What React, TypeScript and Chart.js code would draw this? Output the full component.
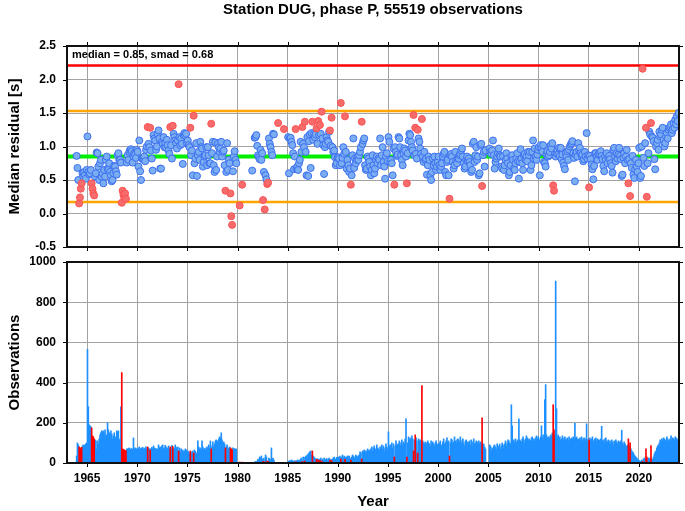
import React, { useEffect, useRef } from "react";
import { Chart, registerables } from "chart.js";

Chart.register(...registerables);

const TITLE = "Station DUG, phase P, 55519 observations";
const Y1_TITLE = "Median residual [s]";
const Y2_TITLE = "Observations";
const X_TITLE = "Year";
const MEDIAN = 0.85;
const SMAD = 0.68;
const STATS_LABEL = "median = 0.85, smad = 0.68";

const START_YEAR = 1963;
const X_MIN = 1963;
const X_MAX = 2024;
const yearTicks = [1965, 1970, 1975, 1980, 1985, 1990, 1995, 2000, 2005, 2010, 2015, 2020];
const residualTicks = [-0.5, 0, 0.5, 1, 1.5, 2, 2.5];
const countTicks = [0, 200, 400, 600, 800, 1000];

const n = null;

// monthly median residuals [s], one row of 12 months per year (null = no data)
const residual1960s = [
  n, n, n, n, n, n, n, n, n, n, n, 0.86, // 1963
  0.68, 0.5, 0.15, 0.24, 0.37, 0.45, 0.6, 0.55, 0.62, 0.57, 0.52, 0.65, // 1964
  1.15, 0.62, 0.58, 0.6, 0.65, 0.45, 0.37, 0.3, 0.27, 0.55, 0.6, 0.91, // 1965
  0.9, 0.7, 0.5, 0.75, 0.8, 0.55, 0.6, 0.45, 0.65, 0.55, 0.8, 0.85, // 1966
  0.67, 0.65, 0.75, 0.62, 0.57, 0.48, 0.5, 0.6, 0.71, 0.7, 0.63, 0.58, // 1967
  0.87, 0.9, 0.8, 0.8, 0.76, 0.16, 0.34, 0.28, 0.24, 0.3, 0.22, 0.76, // 1968
  0.87, 0.8, 0.92, 0.95, 0.96, 0.93, 0.76, 0.85, 0.9, 0.88, 0.83, 0.95, // 1969
];
const residual1970s = [
  0.92, 0.7, 1.09, 0.63, 0.5, 0.82, 0.82, 0.8, 0.85, 0.78, 0.95, 1.0, // 1970
  1.29, 1.04, 0.99, 1.28, 0.94, 0.82, 0.64, 1.17, 1.12, 1.09, 0.95, 1.0, // 1971
  1.19, 1.24, 1.12, 0.67, 0.67, 1.07, 1.04, 1.14, 0.99, 1.05, 0.98, 1.1, // 1972
  1.02, 0.94, 0.89, 1.29, 1.02, 0.82, 1.31, 1.19, 1.14, 1.09, 1.05, 0.97, // 1973
  1.09, 1.93, 1.14, 1.02, 1.12, 1.04, 0.74, 1.17, 1.2, 1.16, 1.19, 1.05, // 1974
  1.09, 1.02, 0.99, 1.28, 0.87, 0.94, 0.57, 1.46, 0.75, 0.82, 1.05, 0.56, // 1975
  0.87, 0.92, 0.8, 1.07, 0.99, 0.97, 0.7, 0.77, 0.85, 0.87, 0.99, 0.72, // 1976
  0.99, 0.87, 0.75, 0.75, 1.34, 0.9, 1.07, 0.72, 0.62, 1.06, 0.65, 0.85, // 1977
  1.04, 0.99, 0.92, 0.97, 1.07, 0.85, 0.92, 0.94, 0.72, 0.34, 0.62, 1.05, // 1978
  0.65, 0.8, 0.75, 0.3, -0.04, -0.17, 0.63, 0.85, 0.93, 0.8, 0.75, n, // 1979
];
const residual1980s = [
  n, n, 0.12, n, n, 0.43, n, n, n, n, n, n, // 1980
  n, n, n, n, n, 0.64, n, n, 1.13, 1.14, 1.17, 1.01, // 1981
  0.87, 0.84, 0.81, 0.95, 0.8, 0.9, 0.2, 0.62, 0.06, 0.57, 0.51, 0.44, // 1982
  0.46, 1.12, 1.04, 0.99, 0.92, 0.87, 1.19, 1.18, n, n, n, n, // 1983
  1.35, n, n, n, n, n, n, 1.26, n, n, n, n, // 1984
  1.14, 0.6, 1.12, 1.13, 1.07, 1.02, 0.9, 0.66, 0.85, 1.26, 0.67, 0.7, // 1985
  0.65, 0.75, 0.8, 1.07, 0.92, 1.29, 1.04, 0.99, 1.37, 0.92, 0.57, 1.14, // 1986
  0.56, 1.08, 1.18, 0.68, 1.2, 1.37, 1.1, 1.19, 1.14, 1.18, 1.27, 1.04, // 1987
  1.38, 1.17, 1.32, 1.19, 1.52, 1.12, 1.02, 0.59, 0.99, 1.04, 1.14, 1.09, // 1988
  1.07, 1.22, 1.24, 1.01, 1.43, 0.99, 0.92, 0.94, 0.84, 0.72, 0.75, 0.83, // 1989
];
const residual1990s = [
  0.84, 0.82, 0.72, 1.65, 0.75, 0.83, 0.99, 0.89, 1.45, 0.92, 0.67, 0.8, // 1990
  0.72, 0.62, 0.67, 0.43, 0.57, 0.87, 1.12, 0.68, 0.82, 0.75, 0.8, 0.85, // 1991
  0.8, 0.87, 0.92, 0.99, 1.37, 1.04, 1.09, 1.12, 0.72, 0.65, 0.67, 0.85, // 1992
  0.82, 0.77, 0.7, 0.57, 0.65, 0.87, 0.72, 0.6, 0.67, 0.8, 0.85, 0.75, // 1993
  0.82, 0.8, 1.12, 0.72, 0.87, 0.99, 0.77, 0.7, 0.52, 0.85, 0.9, 0.78, // 1994
  1.14, 1.07, 0.77, 0.8, 0.75, 0.57, 0.97, 0.43, 0.99, 0.92, 0.86, 0.88, // 1995
  1.14, 1.12, 0.99, 0.87, 0.8, 0.72, 0.89, 0.97, 0.94, 0.85, 0.45, 0.9, // 1996
  1.09, 1.19, 1.17, 1.07, 0.99, 0.94, 1.47, 0.87, 1.28, 0.89, 0.82, 1.25, // 1997
  1.12, 1.07, 0.97, 0.89, 1.41, 0.85, 0.77, 0.92, 0.8, 0.82, 0.58, 0.72, // 1998
  0.85, 0.8, 0.57, 0.5, 0.62, 0.82, 0.72, 0.85, 0.75, 0.65, 0.7, 0.77, // 1999
];
const residual2000s = [
  0.85, 0.72, 0.65, 0.7, 0.75, 0.85, 0.89, 0.92, 0.62, 0.57, 0.77, 0.8, // 2000
  0.57, 0.22, 0.87, 0.89, 0.85, 0.77, 0.67, 0.72, 0.92, 0.8, 0.75, 0.82, // 2001
  0.82, 0.87, 0.89, 0.94, 0.97, 0.85, 0.75, 0.67, 0.7, 0.8, 0.85, 0.78, // 2002
  0.82, 0.77, 0.72, 0.62, 0.65, 1.04, 1.07, 0.77, 0.87, 0.99, 0.8, 0.85, // 2003
  0.57, 0.6, 1.02, 1.04, 0.41, 0.87, 0.92, 0.7, 0.94, n, n, n, // 2004
  n, 0.97, 0.92, 0.89, 0.94, 1.09, 0.87, 0.67, 0.77, 0.82, 0.85, 0.9, // 2005
  0.97, 0.87, 0.85, 0.7, 0.67, 0.85, 0.65, 0.72, 0.8, 0.9, 0.82, 0.75, // 2006
  0.57, 0.62, 0.72, 0.85, 0.87, 0.8, 0.67, 0.65, 0.75, 0.82, 0.9, 0.78, // 2007
  0.52, 0.77, 0.96, 0.82, 0.75, 0.65, 0.87, 0.89, 0.8, 0.85, 0.78, 0.92, // 2008
  0.87, 0.92, 0.65, 0.72, 0.92, 1.09, 0.82, 0.97, 0.85, 0.8, 0.88, 0.95, // 2009
];
const residual2010s = [
  0.99, 0.57, 1.02, 0.97, 0.92, 1.02, 0.77, 0.75, 0.7, 0.88, 0.93, 0.85, // 2010
  0.87, 0.92, 1.02, 0.97, 1.05, 0.42, 0.34, 0.89, 0.85, 0.9, 0.95, 0.88, // 2011
  0.98, 0.86, 0.98, 0.81, 0.88, 0.76, 0.71, 0.66, 0.9, 0.85, 0.93, 0.8, // 2012
  0.95, 1.0, 1.03, 1.05, 1.08, 0.9, 0.83, 0.48, 0.88, 0.92, 0.85, 1.05, // 2013
  0.95, 0.98, 0.9, 0.86, 0.88, 0.78, 0.81, 0.92, 0.85, 1.2, 0.82, 0.87, // 2014
  0.39, 0.86, 0.81, 0.73, 0.66, 0.51, 0.71, 0.9, 0.9, 0.85, 0.8, 0.88, // 2015
  0.9, 0.88, 0.93, 0.86, 0.81, 0.71, 0.63, 0.85, 0.8, 0.9, 0.75, 0.83, // 2016
  0.86, 0.81, 0.75, 0.71, 0.61, 0.95, 0.98, 0.85, 0.78, 0.9, 0.82, 0.88, // 2017
  0.98, 0.86, 0.81, 0.56, 0.58, 0.83, 0.9, 0.75, 0.85, 0.95, 0.8, 0.45, // 2018
  0.81, 0.26, 0.75, 0.68, 0.86, 0.58, 0.53, 0.66, 0.8, 0.7, 0.62, 0.75, // 2019
];
const residual2020s = [
  0.98, 0.53, 0.56, 1.0, 2.16, 0.83, 0.71, 1.05, 1.28, 0.25, 0.75, 0.9, // 2020
  1.22, 1.18, 1.35, 1.15, 1.13, 1.08, 0.81, 0.66, 1.0, 1.05, 1.1, 0.95, // 2021
  1.22, 1.15, 1.18, 1.25, 1.28, 1.1, 1.0, 1.05, 1.15, 1.2, 1.12, 1.25, // 2022
  1.28, 1.3, 1.33, 1.2, 1.25, 1.35, 1.28, 1.4, 1.33, 1.45, 1.38, 1.5, // 2023
];

// monthly number of observations, one row of 12 months per year
const counts1960s = [
  0, 0, 0, 0, 0, 0, 0, 0, 0, 0, 0, 35, // 1963
  100, 90, 80, 75, 70, 78, 85, 90, 85, 90, 95, 100, // 1964
  565, 280, 190, 185, 180, 175, 135, 130, 120, 115, 110, 70, // 1965
  110, 95, 120, 140, 150, 160, 155, 160, 150, 165, 130, 140, // 1966
  200, 165, 150, 140, 160, 145, 120, 135, 150, 130, 120, 160, // 1967
  155, 160, 115, 120, 280, 450, 70, 68, 65, 60, 62, 70, // 1968
  70, 72, 75, 70, 65, 72, 68, 125, 70, 75, 72, 68, // 1969
];
const counts1970s = [
  75, 70, 80, 72, 68, 75, 78, 70, 72, 75, 80, 70, // 1970
  80, 75, 70, 65, 72, 78, 70, 85, 75, 70, 72, 68, // 1971
  70, 90, 75, 80, 65, 85, 90, 70, 75, 88, 80, 72, // 1972
  75, 85, 70, 80, 72, 88, 82, 70, 75, 90, 78, 72, // 1973
  80, 60, 75, 55, 70, 60, 65, 55, 60, 70, 65, 58, // 1974
  60, 55, 50, 60, 45, 55, 60, 50, 65, 58, 50, 45, // 1975
  110, 80, 70, 75, 65, 110, 80, 70, 72, 65, 75, 80, // 1976
  70, 90, 75, 110, 70, 85, 105, 80, 95, 110, 115, 100, // 1977
  110, 120, 130, 125, 150, 115, 100, 105, 95, 75, 80, 90, // 1978
  75, 70, 80, 75, 70, 65, 75, 70, 72, 68, 70, 0, // 1979
];
const counts1980s = [
  0, 0, 5, 0, 0, 4, 0, 0, 0, 0, 0, 0, // 1980
  0, 0, 0, 0, 0, 3, 0, 0, 5, 8, 6, 10, // 1981
  20, 15, 30, 25, 35, 20, 8, 25, 6, 40, 30, 10, // 1982
  8, 25, 20, 15, 75, 20, 25, 15, 0, 0, 0, 0, // 1983
  2, 0, 0, 0, 0, 0, 0, 2, 0, 0, 0, 0, // 1984
  10, 8, 12, 10, 15, 12, 10, 8, 12, 6, 10, 15, // 1985
  12, 15, 10, 20, 25, 8, 30, 28, 10, 35, 30, 40, // 1986
  45, 50, 55, 60, 40, 60, 35, 30, 25, 20, 18, 22, // 1987
  15, 20, 12, 25, 10, 20, 15, 25, 20, 18, 22, 15, // 1988
  20, 25, 15, 18, 12, 20, 25, 30, 15, 20, 28, 25, // 1989
];
const counts1990s = [
  30, 25, 35, 20, 30, 40, 25, 35, 18, 30, 28, 35, // 1990
  30, 35, 25, 15, 30, 40, 35, 25, 30, 40, 35, 30, // 1991
  35, 40, 55, 50, 20, 60, 55, 65, 50, 60, 55, 70, // 1992
  60, 65, 55, 70, 80, 60, 75, 85, 65, 70, 90, 75, // 1993
  70, 65, 80, 75, 90, 70, 85, 60, 75, 95, 80, 70, // 1994
  155, 80, 90, 85, 100, 75, 95, 30, 85, 110, 95, 90, // 1995
  95, 110, 85, 100, 115, 90, 105, 95, 120, 220, 30, 100, // 1996
  130, 115, 125, 110, 135, 120, 60, 115, 140, 125, 110, 50, // 1997
  120, 110, 115, 105, 385, 110, 100, 95, 105, 90, 100, 110, // 1998
  100, 95, 85, 110, 90, 105, 95, 85, 100, 110, 95, 90, // 1999
];
const counts2000s = [
  95, 100, 110, 85, 90, 105, 120, 95, 100, 110, 125, 105, // 2000
  110, 35, 100, 120, 115, 95, 105, 130, 110, 100, 115, 120, // 2001
  115, 105, 130, 95, 110, 120, 100, 85, 110, 115, 95, 105, // 2002
  100, 110, 90, 115, 105, 85, 120, 95, 100, 110, 90, 105, // 2003
  110, 95, 105, 100, 225, 90, 95, 80, 70, 2, 0, 0, // 2004
  3, 90, 85, 65, 75, 55, 85, 90, 80, 70, 95, 85, // 2005
  80, 95, 70, 85, 100, 90, 75, 95, 110, 85, 100, 115, // 2006
  110, 100, 95, 290, 185, 110, 115, 100, 120, 105, 110, 115, // 2007
  220, 115, 110, 105, 120, 130, 115, 100, 120, 135, 125, 110, // 2008
  120, 115, 110, 125, 130, 115, 120, 110, 125, 135, 120, 130, // 2009
];
const counts2010s = [
  120, 110, 130, 185, 125, 140, 115, 315, 390, 140, 125, 130, // 2010
  130, 120, 140, 135, 150, 290, 165, 140, 905, 270, 130, 140, // 2011
  125, 130, 115, 120, 135, 110, 125, 130, 115, 120, 125, 110, // 2012
  130, 115, 120, 125, 120, 130, 115, 197, 125, 130, 120, 115, // 2013
  120, 125, 115, 130, 110, 120, 125, 115, 120, 195, 110, 120, // 2014
  115, 125, 110, 120, 130, 105, 115, 120, 125, 110, 120, 115, // 2015
  110, 115, 120, 183, 110, 115, 100, 120, 125, 110, 105, 115, // 2016
  100, 110, 95, 115, 105, 90, 110, 100, 115, 105, 95, 110, // 2017
  105, 95, 110, 163, 100, 90, 105, 95, 80, 85, 90, 120, // 2018
  85, 100, 70, 60, 55, 50, 40, 35, 30, 25, 20, 15, // 2019
];
const counts2020s = [
  12, 10, 8, 15, 8, 20, 25, 20, 70, 30, 20, 25, // 2020
  20, 25, 87, 15, 20, 30, 45, 55, 60, 75, 85, 90, // 2021
  100, 115, 105, 120, 110, 125, 120, 115, 105, 130, 120, 110, // 2022
  115, 120, 135, 110, 125, 120, 115, 130, 125, 120, 115, 110, // 2023
];

// months flagged (drawn red)
const redMonths = [
  "1964-03", "1964-04", "1964-05", "1964-06",
  "1965-06", "1965-07", "1965-08", "1965-09",
  "1968-06", "1968-07", "1968-08", "1968-09", "1968-10", "1968-11",
  "1971-01", "1971-04", "1973-04", "1973-07", "1974-02", "1975-04", "1975-08",
  "1977-05", "1978-10", "1979-04", "1979-05", "1979-06", "1980-03", "1980-06",
  "1982-07", "1982-09", "1982-12", "1983-01", "1984-01", "1984-08", "1985-10",
  "1986-06", "1986-09", "1987-06", "1987-11", "1988-01", "1988-03", "1988-05",
  "1989-03", "1989-05", "1990-04", "1990-09", "1991-04", "1992-05", "1995-08",
  "1996-11", "1997-07", "1997-09", "1997-12", "1998-05", "2001-02", "2004-05",
  "2011-06", "2011-07", "2015-01", "2018-12", "2019-02", "2020-05", "2020-09",
  "2020-10", "2021-03",
];

const FONT = "'Liberation Sans', Arial, Helvetica, sans-serif";
const GRID = "#a3a3a3";
const BLUE_BAR = "#1e90ff";
const RED_BAR = "#ff0000";
const BLUE_PT = "#7aaef0";
const BLUE_PT_EDGE = "#3d6ff0";
const RED_PT = "#f46c6c";
const RED_PT_EDGE = "#ff5252";

const residuals = [
  ...residual1960s, ...residual1970s, ...residual1980s,
  ...residual1990s, ...residual2000s, ...residual2010s, ...residual2020s,
];
const counts = [
  ...counts1960s, ...counts1970s, ...counts1980s,
  ...counts1990s, ...counts2000s, ...counts2010s, ...counts2020s,
];
const redSet = new Set(redMonths);
const monthKey = (i: number) =>
  `${START_YEAR + Math.floor(i / 12)}-${String((i % 12) + 1).padStart(2, "0")}`;
const monthX = (i: number) => START_YEAR + (i + 0.5) / 12;

function buildSeries() {
  const bluePts: { x: number; y: number }[] = [];
  const redPts: { x: number; y: number }[] = [];
  const blueBars: { x: number; y: number }[] = [];
  const redBars: { x: number; y: number }[] = [];
  residuals.forEach((v, i) => {
    if (v === null || v === undefined) return;
    (redSet.has(monthKey(i)) ? redPts : bluePts).push({ x: monthX(i), y: v });
  });
  counts.forEach((c, i) => {
    if (!c) return;
    (redSet.has(monthKey(i)) ? redBars : blueBars).push({ x: monthX(i), y: c });
  });
  return { bluePts, redPts, blueBars, redBars };
}

const framePlugin = {
  id: "frame",
  afterDraw(chart: any, _args: any, opts: any) {
    const { ctx, chartArea: a, scales } = chart;
    ctx.save();
    ctx.strokeStyle = "#000";
    ctx.lineWidth = 1;
    const tl = 4;
    ctx.beginPath();
    for (const v of yearTicks) {
      const px = Math.round(scales.x.getPixelForValue(v)) + 0.5;
      ctx.moveTo(px, a.bottom);
      ctx.lineTo(px, a.bottom + tl);
      if (opts && opts.topTicks) {
        ctx.moveTo(px, a.top);
        ctx.lineTo(px, a.top - tl);
      }
    }
    for (const t of scales.y.ticks) {
      const py = Math.round(scales.y.getPixelForValue(t.value)) + 0.5;
      ctx.moveTo(a.left - tl, py);
      ctx.lineTo(a.left, py);
      ctx.moveTo(a.right, py);
      ctx.lineTo(a.right + tl, py);
    }
    ctx.stroke();
    ctx.lineWidth = 2;
    ctx.strokeStyle = "#111";
    ctx.strokeRect(a.left, a.top, a.right - a.left, a.bottom - a.top);
    ctx.restore();
  },
};

const annotPlugin = {
  id: "annot",
  afterDraw(chart: any, _args: any, opts: any) {
    if (!opts || !opts.show) return;
    const { ctx, chartArea: a } = chart;
    ctx.save();
    ctx.fillStyle = "#000";
    ctx.font = `bold 15px ${FONT}`;
    ctx.textAlign = "center";
    ctx.textBaseline = "middle";
    ctx.fillText(TITLE, (a.left + a.right) / 2, 10);
    ctx.font = `bold 11px ${FONT}`;
    ctx.textAlign = "left";
    ctx.textBaseline = "alphabetic";
    ctx.fillText(STATS_LABEL, a.left + 5, a.top + 12);
    ctx.restore();
  },
};

const tickFont = { family: FONT, size: 12, weight: "bold" as const };
const titleFont = { family: FONT, size: 15, weight: "bold" as const };

// keep the plot area exactly where the layout padding puts it
const fixWidth = (w: number) => (s: any) => {
  s.width = w;
  s.paddingTop = 0;
  s.paddingBottom = 0;
};
const fixHeight = (h: number) => (s: any) => {
  s.height = h;
  s.paddingLeft = 0;
  s.paddingRight = 0;
};

export default function App() {
  const topRef = useRef<HTMLCanvasElement>(null);
  const botRef = useRef<HTMLCanvasElement>(null);

  useEffect(() => {
    const { bluePts, redPts, blueBars, redBars } = buildSeries();
    const hline = (y: number, color: string, width: number, order: number) => ({
      type: "line" as const,
      data: [
        { x: X_MIN, y },
        { x: X_MAX, y },
      ],
      borderColor: color,
      borderWidth: width,
      pointRadius: 0,
      showLine: true,
      order,
    });

    const top = new Chart(topRef.current!, {
      type: "scatter",
      data: {
        datasets: [
          {
            data: redPts,
            backgroundColor: RED_PT,
            borderColor: RED_PT_EDGE,
            borderWidth: 1,
            pointRadius: 3.5,
            order: 0,
          },
          {
            data: bluePts,
            backgroundColor: BLUE_PT,
            borderColor: BLUE_PT_EDGE,
            borderWidth: 1,
            pointRadius: 3.5,
            order: 1,
          },
          hline(MEDIAN, "#00ee00", 4, 2),
          hline(MEDIAN + SMAD, "#ffa500", 2.5, 3),
          hline(MEDIAN - SMAD, "#ffa500", 2.5, 3),
          hline(MEDIAN + 2 * SMAD, "#ff0000", 2.5, 3),
        ] as any,
      },
      options: {
        animation: false,
        responsive: false,
        devicePixelRatio: 1,
        layout: { autoPadding: false, padding: { left: 0, right: 6, top: 46, bottom: 0 } },
        plugins: {
          legend: { display: false },
          tooltip: { enabled: false },
          title: { display: false },
          frame: { topTicks: true },
          annot: { show: true },
        } as any,
        scales: {
          x: {
            type: "linear",
            min: X_MIN,
            max: X_MAX,
            afterBuildTicks: (s: any) => {
              s.ticks = yearTicks.map((v) => ({ value: v }));
            },
            afterFit: fixHeight(8),
            ticks: { display: false },
            grid: { color: GRID, lineWidth: 1, drawTicks: false },
            border: { display: false },
          },
          y: {
            type: "linear",
            min: -0.5,
            max: 2.5,
            afterBuildTicks: (s: any) => {
              s.ticks = residualTicks.map((v) => ({ value: v }));
            },
            afterFit: fixWidth(67),
            ticks: {
              font: tickFont,
              color: "#000",
              padding: 11,
              callback: (v: any) => Number(v).toFixed(1),
            },
            grid: { color: GRID, lineWidth: 1, drawTicks: false },
            border: { display: false },
            title: {
              display: true,
              text: Y1_TITLE,
              font: titleFont,
              color: "#000",
              padding: { top: 6, bottom: 0 },
            },
          },
        },
      } as any,
      plugins: [framePlugin, annotPlugin],
    });

    const bot = new Chart(botRef.current!, {
      type: "bar",
      data: {
        datasets: [
          {
            data: redBars,
            backgroundColor: RED_BAR,
            barThickness: 1,
            grouped: false,
            order: 0,
          },
          {
            data: blueBars,
            backgroundColor: BLUE_BAR,
            barThickness: 1,
            grouped: false,
            order: 1,
          },
        ] as any,
      },
      options: {
        animation: false,
        responsive: false,
        devicePixelRatio: 1,
        layout: { autoPadding: false, padding: { left: 0, right: 6, top: 7, bottom: 0 } },
        plugins: {
          legend: { display: false },
          tooltip: { enabled: false },
          title: { display: false },
          frame: { topTicks: false },
          annot: { show: false },
        } as any,
        scales: {
          x: {
            type: "linear",
            min: X_MIN,
            max: X_MAX,
            offset: false,
            afterBuildTicks: (s: any) => {
              s.ticks = yearTicks.map((v) => ({ value: v }));
            },
            afterFit: fixHeight(48),
            ticks: {
              font: tickFont,
              color: "#000",
              padding: 8,
              maxRotation: 0,
              autoSkip: false,
              callback: (v: any) => String(v),
            },
            grid: { color: GRID, lineWidth: 1, drawTicks: false, offset: false },
            border: { display: false },
            title: {
              display: true,
              text: X_TITLE,
              font: titleFont,
              color: "#000",
              padding: { top: 0, bottom: 0 },
            },
          },
          y: {
            type: "linear",
            min: 0,
            max: 1000,
            afterBuildTicks: (s: any) => {
              s.ticks = countTicks.map((v) => ({ value: v }));
            },
            afterFit: fixWidth(67),
            ticks: {
              font: tickFont,
              color: "#000",
              padding: 11,
              callback: (v: any) => String(v),
            },
            grid: { color: GRID, lineWidth: 1, drawTicks: false },
            border: { display: false },
            title: {
              display: true,
              text: Y2_TITLE,
              font: titleFont,
              color: "#000",
              padding: { top: 6, bottom: 0 },
            },
          },
        },
      } as any,
      plugins: [framePlugin, annotPlugin],
    });

    return () => {
      top.destroy();
      bot.destroy();
    };
  }, []);

  return (
    <div
      style={{
        position: "fixed",
        left: 0,
        top: 0,
        width: 685,
        height: 511,
        background: "#fff",
        overflow: "hidden",
      }}
    >
      <canvas
        ref={topRef}
        width={685}
        height={255}
        style={{ position: "absolute", left: 0, top: 0, width: 685, height: 255 }}
      />
      <canvas
        ref={botRef}
        width={685}
        height={256}
        style={{ position: "absolute", left: 0, top: 255, width: 685, height: 256 }}
      />
    </div>
  );
}
